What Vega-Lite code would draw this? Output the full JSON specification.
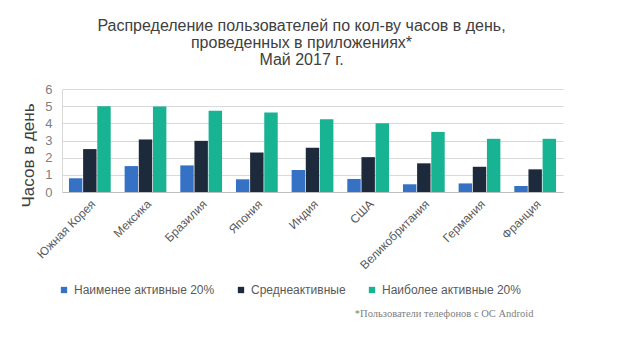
{
  "$schema": "https://vega.github.io/schema/vega-lite/v6.json",
  "width": 501,
  "height": 103,
  "autosize": {"type": "none"},
  "padding": {"left": 62, "top": 89, "right": 75, "bottom": 155},
  "background": "white",
  "config": {
    "font": "Liberation Sans",
    "view": {"stroke": null}
  },
  "title": {
    "text": ["Распределение пользователей по кол-ву часов в день,", "проведенных в приложениях*", "Май 2017 г."],
    "anchor": "middle",
    "frame": "group",
    "dx": -11,
    "offset": 15,
    "fontSize": 16,
    "lineHeight": 17,
    "fontWeight": "normal",
    "color": "#404040",
    "font": "Liberation Sans"
  },
  "data": {
    "values": [
      {"country": "Южная Корея", "group": "Наименее активные 20%", "hours": 0.8},
      {"country": "Южная Корея", "group": "Среднеактивные", "hours": 2.5},
      {"country": "Южная Корея", "group": "Наиболее активные 20%", "hours": 5.0},
      {"country": "Мексика", "group": "Наименее активные 20%", "hours": 1.51},
      {"country": "Мексика", "group": "Среднеактивные", "hours": 3.06},
      {"country": "Мексика", "group": "Наиболее активные 20%", "hours": 4.98},
      {"country": "Бразилия", "group": "Наименее активные 20%", "hours": 1.55},
      {"country": "Бразилия", "group": "Среднеактивные", "hours": 2.98},
      {"country": "Бразилия", "group": "Наиболее активные 20%", "hours": 4.73},
      {"country": "Япония", "group": "Наименее активные 20%", "hours": 0.74},
      {"country": "Япония", "group": "Среднеактивные", "hours": 2.3},
      {"country": "Япония", "group": "Наиболее активные 20%", "hours": 4.63},
      {"country": "Индия", "group": "Наименее активные 20%", "hours": 1.28},
      {"country": "Индия", "group": "Среднеактивные", "hours": 2.58},
      {"country": "Индия", "group": "Наиболее активные 20%", "hours": 4.24},
      {"country": "США", "group": "Наименее активные 20%", "hours": 0.76},
      {"country": "США", "group": "Среднеактивные", "hours": 2.03},
      {"country": "США", "group": "Наиболее активные 20%", "hours": 4.0},
      {"country": "Великобритания", "group": "Наименее активные 20%", "hours": 0.45},
      {"country": "Великобритания", "group": "Среднеактивные", "hours": 1.67},
      {"country": "Великобритания", "group": "Наиболее активные 20%", "hours": 3.5},
      {"country": "Германия", "group": "Наименее активные 20%", "hours": 0.5},
      {"country": "Германия", "group": "Среднеактивные", "hours": 1.47},
      {"country": "Германия", "group": "Наиболее активные 20%", "hours": 3.1},
      {"country": "Франция", "group": "Наименее активные 20%", "hours": 0.35},
      {"country": "Франция", "group": "Среднеактивные", "hours": 1.32},
      {"country": "Франция", "group": "Наиболее активные 20%", "hours": 3.1}
    ]
  },
  "mark": {"type": "bar"},
  "encoding": {
    "x": {
      "field": "country",
      "type": "nominal",
      "sort": null,
      "scale": {"paddingInner": 0.25, "paddingOuter": 0.125},
      "axis": {
        "title": "*Пользователи телефонов с ОС Android",
        "titleFont": "Liberation Serif",
        "titleFontSize": 10.5,
        "titleFontWeight": "normal",
        "titleColor": "#808080",
        "titleAnchor": "end",
        "titleAlign": "right",
        "titleBaseline": "alphabetic",
        "titleX": 471,
        "titleY": 124,
        "labelAngle": -45,
        "labelFontSize": 12,
        "labelColor": "#595959",
        "labelPadding": 6,
        "ticks": false,
        "domainColor": "#bfbfbf",
        "grid": false
      }
    },
    "xOffset": {
      "field": "group",
      "type": "nominal",
      "sort": ["Наименее активные 20%", "Среднеактивные", "Наиболее активные 20%"],
      "scale": {"paddingInner": 0.05}
    },
    "y": {
      "field": "hours",
      "type": "quantitative",
      "scale": {"domain": [0, 6]},
      "axis": {
        "title": "Часов в день",
        "titleFontSize": 17,
        "titleFontWeight": "normal",
        "titleColor": "#404040",
        "titleX": -29,
        "titleY": 66,
        "titleAlign": "center",
        "titleBaseline": "alphabetic",
        "values": [0, 1, 2, 3, 4, 5, 6],
        "labelOverlap": false,
        "labelFontSize": 13,
        "labelColor": "#7f7f7f",
        "labelPadding": 10,
        "ticks": false,
        "domain": true,
        "domainColor": "#d9d9d9",
        "gridColor": "#d9d9d9"
      }
    },
    "color": {
      "field": "group",
      "type": "nominal",
      "sort": ["Наименее активные 20%", "Среднеактивные", "Наиболее активные 20%"],
      "scale": {
        "domain": ["Наименее активные 20%", "Среднеактивные", "Наиболее активные 20%"],
        "range": ["#3572c6", "#1d2a3c", "#17b392"]
      },
      "legend": {
        "title": null,
        "orient": "none",
        "direction": "horizontal",
        "legendX": -4,
        "legendY": 195,
        "symbolType": "square",
        "symbolSize": 40,
        "symbolStrokeWidth": 0,
        "labelFontSize": 12,
        "labelColor": "#595959",
        "labelOffset": 4,
        "columnPadding": 20
      }
    }
  }
}
